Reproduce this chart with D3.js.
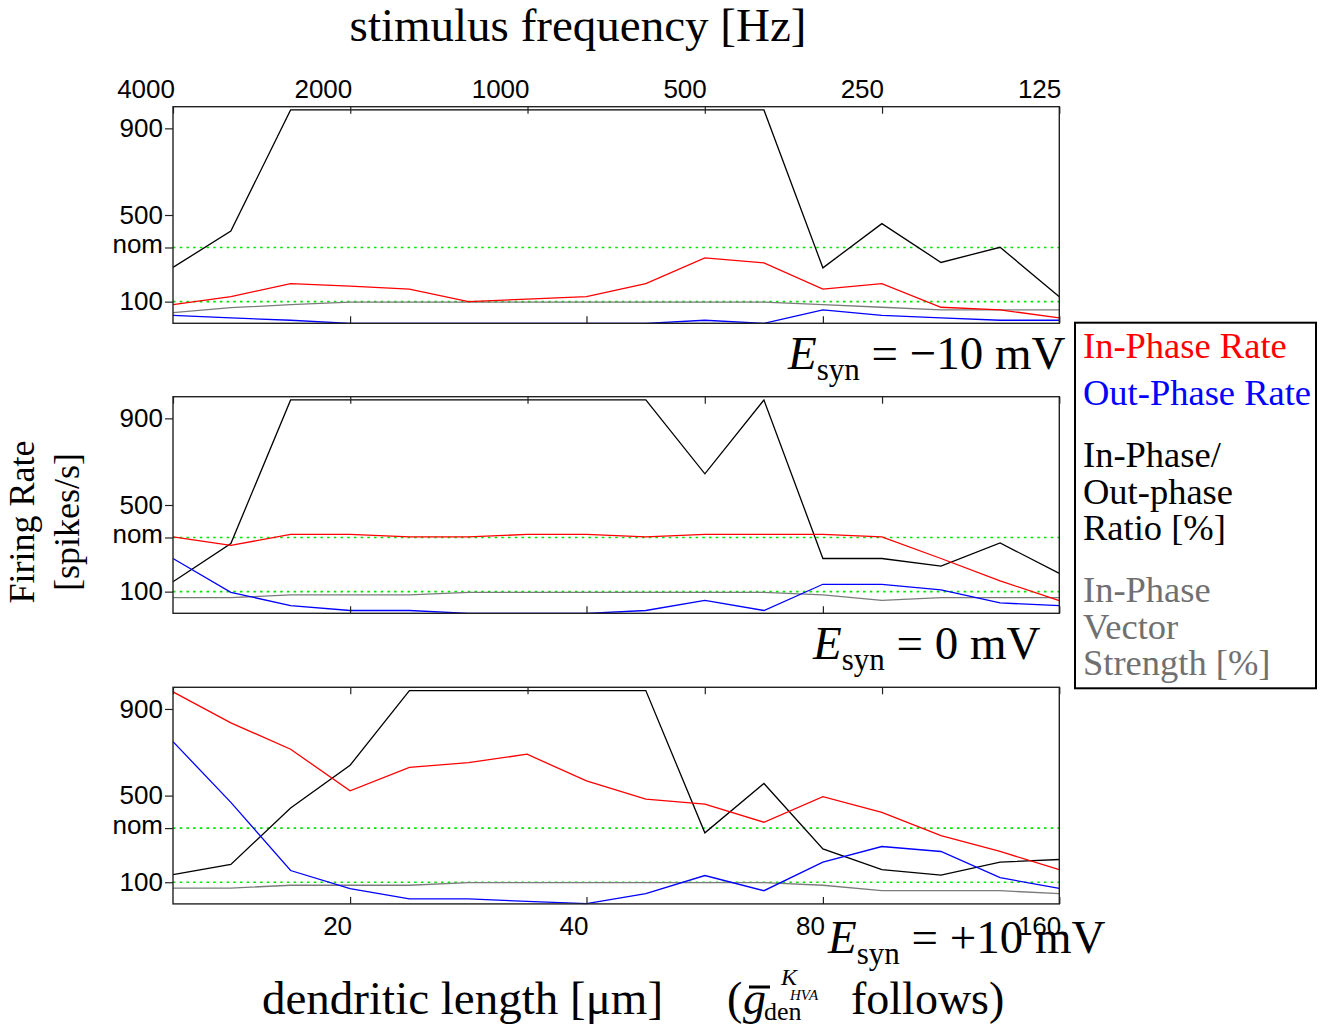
<!DOCTYPE html>
<meta charset="utf-8">
<head>
<script type="text/javascript" src="https://cdn.jsdelivr.net/npm/d3@7"></script>
<style>
	body { margin: 0; background: #fff; }
	svg text { font-family: "Liberation Serif", "Times New Roman", serif; white-space: pre; }
	.tick text { font-family: "Liberation Sans", Arial, sans-serif; font-size: 26px; fill: #000; }
	.tick line { stroke: #222; stroke-width: 1.2; }
</style>
</head>
<body>
<script>

// dendritic lengths of the 16 simulated points (um), log spaced
var lengths = [11.9, 14.1, 16.8, 20, 23.8, 28.3, 33.6, 40, 47.6, 56.6, 67.3, 80, 95.1, 113.1, 134.5, 160];

var freqTicks = [4000, 2000, 1000, 500, 250, 125];
var lengthTicks = [20, 40, 80, 160];
var rateTicks = [100, 350, 500, 900];
var nomRate = 350, refRate = 100;

// E_syn = -10 mV
var inRateM10  = [86, 123, 183, 172, 158, 100, 112, 123, 183, 302, 279, 158, 183, 74, 62, 25];
var outRateM10 = [37, 25, 14, 0, 0, 0, 0, 0, 0, 14, 0, 62, 37, 25, 14, 14];
var ratioM10   = [258, 426, 985, 985, 985, 985, 985, 985, 985, 985, 985, 256, 460, 281, 351, 123];
var vecStrM10  = [49, 72, 86, 98, 98, 98, 98, 98, 98, 98, 98, 86, 74, 62, 62, 62];

// E_syn = 0 mV
var inRate0  = [353, 314, 364, 364, 353, 353, 364, 364, 353, 364, 364, 364, 353, 253, 150, 58];
var outRate0 = [253, 97, 35, 13, 13, 0, 0, 0, 13, 60, 13, 134, 134, 108, 48, 35];
var ratio0   = [146, 322, 985, 985, 985, 985, 985, 985, 985, 644, 985, 253, 253, 218, 325, 184];
var vecStr0  = [72, 72, 85, 85, 85, 97, 97, 97, 97, 97, 97, 85, 60, 72, 72, 72];

// E_syn = +10 mV
var inRateP10  = [979, 836, 714, 522, 630, 652, 691, 568, 484, 461, 377, 495, 423, 315, 242, 158];
var outRateP10 = [749, 469, 154, 70, 23, 23, 12, 1, 47, 131, 61, 193, 265, 242, 121, 72];
var ratioP10   = [135, 182, 443, 640, 985, 985, 985, 985, 985, 328, 556, 254, 158, 133, 193, 205];
var vecStrP10  = [73, 73, 86, 86, 86, 98, 98, 98, 98, 98, 98, 86, 61, 61, 61, 47];

var esynValues = ["\u221210", "0", "+10"];

var panels = [
	{esyn: esynValues[0], series: [vecStrM10, ratioM10, inRateM10, outRateM10]},
	{esyn: esynValues[1], series: [vecStr0, ratio0, inRate0, outRate0]},
	{esyn: esynValues[2], series: [vecStrP10, ratioP10, inRateP10, outRateP10]}
];
var seriesColors = ["#7a7a7a", "#000000", "#ff0000", "#0000ff"];

var legendItems = [
	{lines: ["In-Phase Rate"], color: "#ff0000"},
	{lines: ["Out-Phase Rate"], color: "#0000ff"},
	{lines: ["In-Phase/", "Out-phase", "Ratio [%]"], color: "#000000"},
	{lines: ["In-Phase", "Vector", "Strength [%]"], color: "#707070"}
];

// layout
var width = 1326, height = 1026;
var plotLeft = 173, plotRight = 1059.3;
var panelTops = [106.7, 396.7, 687.3], panelH = 216.6;
var esynPos = [[788, 369], [813, 659], [828, 953]];

var svg = d3.select("body").append("svg")
	.attr("width", width)
	.attr("height", height);

var x = d3.scaleLog().domain([lengths[0], lengths[lengths.length - 1]]).range([plotLeft, plotRight]);
var xf = d3.scaleLog().domain([4000, 125]).range([plotLeft, plotRight]);

panels.forEach(function(p, i) {
	var top = panelTops[i];
	var y = d3.scaleLinear().domain([0, 1000]).range([top + panelH, top]);
	var g = svg.append("g");

	// reference lines
	[nomRate, refRate].forEach(function(v) {
		g.append("line")
			.attr("x1", plotLeft).attr("x2", plotRight)
			.attr("y1", y(v)).attr("y2", y(v))
			.attr("stroke", "#00e600")
			.attr("stroke-width", 1.7)
			.attr("stroke-dasharray", "2.5,4.2");
	});

	var line = d3.line()
		.x(function(d, k) { return x(lengths[k]); })
		.y(function(d) { return y(d); });

	p.series.forEach(function(s, k) {
		g.append("path")
			.datum(s)
			.attr("fill", "none")
			.attr("stroke", seriesColors[k])
			.attr("stroke-width", 1.3)
			.attr("d", line);
	});

	// frame
	g.append("rect")
		.attr("x", plotLeft).attr("y", top)
		.attr("width", plotRight - plotLeft).attr("height", panelH)
		.attr("fill", "none")
		.attr("stroke", "#222")
		.attr("stroke-width", 1.4);

	// y axis
	var yAxis = g.append("g")
		.attr("transform", "translate(" + plotLeft + ",0)")
		.call(d3.axisLeft(y).tickValues(rateTicks).tickSize(8).tickPadding(2)
			.tickFormat(function(d) { return d == nomRate ? "nom" : d; }));
	yAxis.select(".domain").remove();
	yAxis.selectAll(".tick text").filter(function(d) { return d == nomRate; }).attr("dy", "0.2em");

	// top ticks (frequency)
	var topAxis = g.append("g")
		.attr("transform", "translate(0," + top + ")")
		.call(d3.axisTop(xf).tickValues(freqTicks).tickSize(-7).tickPadding(9)
			.tickFormat(i == 0 ? function(d) { return d; } : ""));
	topAxis.select(".domain").remove();
	topAxis.selectAll(".tick text").attr("text-anchor", "end").attr("dx", "1.5");

	// bottom ticks (length)
	var botAxis = g.append("g")
		.attr("transform", "translate(0," + (top + panelH) + ")")
		.call(d3.axisBottom(x).tickValues(lengthTicks).tickSize(-7).tickPadding(13)
			.tickFormat(i == 2 ? function(d) { return d; } : ""));
	botAxis.select(".domain").remove();
	botAxis.selectAll(".tick text").attr("text-anchor", "end").attr("dx", "1.5");

	// E_syn label
	var t = svg.append("text")
		.attr("x", esynPos[i][0]).attr("y", esynPos[i][1])
		.attr("font-size", 47);
	t.append("tspan").attr("font-style", "italic").text("E");
	t.append("tspan").attr("font-size", 31).attr("dy", 11).text("syn");
	t.append("tspan").attr("dy", -11).text(" = " + p.esyn + " mV");
});

// title
svg.append("text")
	.attr("x", 578).attr("y", 41)
	.attr("text-anchor", "middle")
	.attr("font-size", 47)
	.text("stimulus frequency [Hz]");

// y label
var yl = svg.append("text")
	.attr("transform", "translate(0,522) rotate(-90)")
	.attr("text-anchor", "middle")
	.attr("font-size", 36);
yl.append("tspan").attr("x", 0).attr("y", 34).text("Firing Rate");
yl.append("tspan").attr("x", 0).attr("y", 79).text("[spikes/s]");

// x label
svg.append("text")
	.attr("x", 262).attr("y", 1014)
	.attr("font-size", 47)
	.text("dendritic length [\u03bcm]");

svg.append("text").attr("x", 727).attr("y", 1014).attr("font-size", 46).text("(");
svg.append("text").attr("x", 743).attr("y", 1014).attr("font-size", 46)
	.attr("font-style", "italic").text("g");
svg.append("line")
	.attr("x1", 749).attr("x2", 770).attr("y1", 987).attr("y2", 987)
	.attr("stroke", "#000").attr("stroke-width", 3);
svg.append("text").attr("x", 764).attr("y", 1020).attr("font-size", 26).text("den");
svg.append("text").attr("x", 781).attr("y", 985).attr("font-size", 24)
	.attr("font-style", "italic").text("K");
svg.append("text").attr("x", 790).attr("y", 1000).attr("font-size", 15)
	.attr("font-style", "italic").text("HVA");
svg.append("text").attr("x", 851).attr("y", 1014).attr("font-size", 46).text("follows)");

// legend
svg.append("rect")
	.attr("x", 1075).attr("y", 322.7)
	.attr("width", 241).attr("height", 365.6)
	.attr("fill", "none")
	.attr("stroke", "#000")
	.attr("stroke-width", 2);

var legendY = [358, 405, 467, 602];
legendItems.forEach(function(item, i) {
	var lt = svg.append("text")
		.attr("font-size", 36.5)
		.attr("fill", item.color);
	item.lines.forEach(function(s, k) {
		lt.append("tspan")
			.attr("x", 1083)
			.attr("y", legendY[i] + k * 36.5)
			.text(s);
	});
});

</script>
</body>
